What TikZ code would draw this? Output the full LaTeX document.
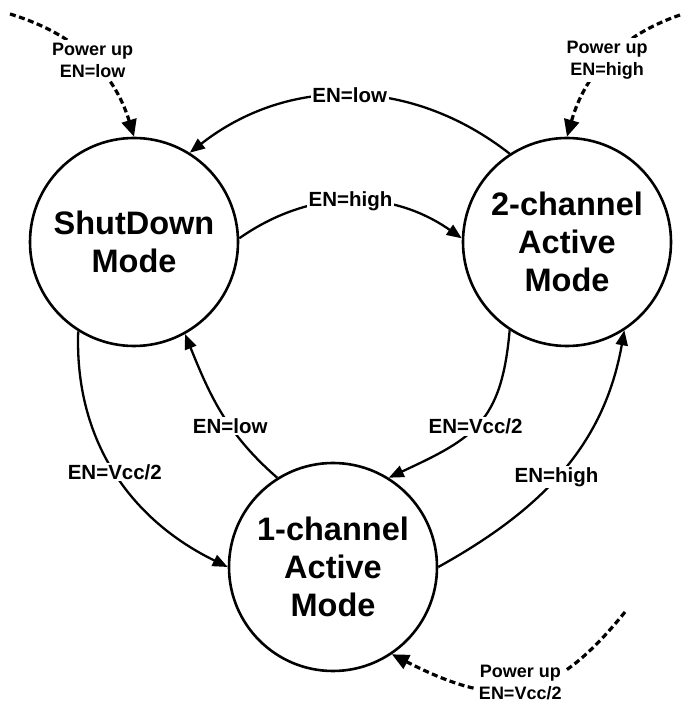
\documentclass[tikz,border=0pt]{standalone}
\usepackage{fontspec}
\setmainfont{Liberation Sans}
\usetikzlibrary{arrows.meta}
\begin{document}
\begin{tikzpicture}[x=1pt,y=1pt,
  state/.style={circle,draw,line width=2.6pt,minimum size=208pt,inner sep=0pt,align=center,font=\fontsize{32.5}{38}\selectfont\bfseries},
  trans/.style={line width=2.3pt,-{Triangle[length=15pt,width=12pt]}},
  pwr/.style={line width=3.2pt,dash pattern=on 6pt off 3.5pt,-{Triangle[length=17pt,width=15pt]}},
  elbl/.style={fill=white,inner sep=1.5pt,font=\fontsize{20.5}{24}\selectfont\bfseries},
  plbl/.style={fill=white,inner sep=3pt,align=center,font=\fontsize{18}{22}\selectfont\bfseries}]
\useasboundingbox (0,0) rectangle (681,704);
\node[state] (A) at (134,462) {ShutDown\\Mode};
\node[state] (B) at (567,462) {2-channel\\Active\\Mode};
\node[state] (C) at (333,137) {1-channel\\Active\\Mode};
\coordinate (s1) at (10,690);
\coordinate (s2) at (680,689);
\coordinate (s3) at (625,92);
\draw[trans] (B.123) to[out=142,in=38] node[elbl]{EN=low} (A.58);
\draw[trans] (A.2) to[out=35,in=145] node[elbl]{EN=high} (B.178);
\draw[trans] (B.-123) to[out=-95,in=25,looseness=1.25] node[elbl,pos=0.52]{EN=Vcc/2} (C.58);
\draw[trans] (C.122) to[out=139,in=-68] node[elbl,pos=0.4]{EN=low} (A.-61);
\draw[trans] (A.-122) to[out=-92,in=154] node[elbl]{EN=Vcc/2} (C.180);
\draw[trans] (C.0) to[out=29,in=-100] node[elbl,pos=0.47]{EN=high} (B.-57);
\draw[pwr] (s1) to[out=-17,in=107] node[plbl,pos=0.53,yshift=2pt]{Power up\\EN=low} (A.90);
\draw[pwr] (s2) to[out=-161,in=74] node[plbl]{Power up\\EN=high} (B.90);
\draw[pwr] (s3) to[out=-129,in=-27,looseness=1.3] node[plbl,inner ysep=1.5pt,yshift=6pt]{Power up\\EN=Vcc/2} (C.-56);
\end{tikzpicture}
\end{document}
